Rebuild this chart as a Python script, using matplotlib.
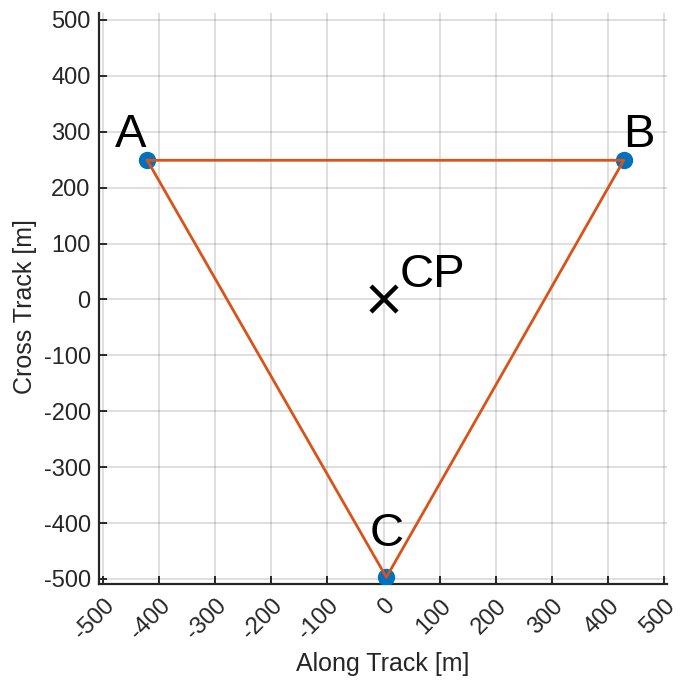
import matplotlib
matplotlib.use("Agg")
import matplotlib.pyplot as plt

plt.rcParams['font.family'] = ['Liberation Sans', 'DejaVu Sans']

# Waypoints of the triangular track
point_names = ["A", "B", "C"]
point_x = [-421, 428, 5]
point_y = [249, 249, -497]

# Centre point
cp_x = [0]
cp_y = [0]

# Label placement (data coordinates, text baseline)
label_x = [-450, 455, 6]
label_y = [273, 273, -441]
cp_label_x = 28
cp_label_y = 22

ticks = list(range(-500, 501, 100))
tick_labels = [str(t) for t in ticks]

axis_color = "#262626"

fig = plt.figure(figsize=(6.81, 6.80), dpi=100)
ax = fig.add_axes([99 / 681, 1 - 584 / 680, (667 - 99) / 681, (584 - 12.7) / 680])

# Markers first, path over them
ax.plot(point_x, point_y, linestyle="none", marker="o", markersize=11.5,
        color="#0072BD", zorder=3)
path_x = point_x + [point_x[0]]
path_y = point_y + [point_y[0]]
ax.plot(path_x, path_y, color="#D95319", linewidth=2.0, zorder=4)

ax.plot(cp_x, cp_y, linestyle="none", marker="x", markersize=19,
        markeredgewidth=3.2, color="black", zorder=5)

for name, lx, ly in zip(point_names, label_x, label_y):
    ax.text(lx, ly, name, fontsize=34, ha="center", va="baseline", color="black")
ax.text(cp_label_x, cp_label_y, "CP", fontsize=34, ha="left", va="baseline", color="black")

ax.set_xlim(-507, 505)
ax.set_ylim(-509, 513)

ax.set_xticks(ticks)
ax.set_yticks(ticks)
ax.set_xticklabels(tick_labels, rotation=45, ha="right", rotation_mode="anchor")
ax.set_yticklabels(tick_labels)

ax.grid(True, color="#262626", alpha=0.15, linewidth=1.4)
ax.set_axisbelow(True)

for side in ["top", "right"]:
    ax.spines[side].set_visible(False)
for side in ["left", "bottom"]:
    ax.spines[side].set_color(axis_color)
    ax.spines[side].set_linewidth(1.6)

ax.tick_params(axis="both", direction="in", length=6, width=1.4,
               color=axis_color, labelcolor=axis_color, labelsize=17)
ax.tick_params(axis="y", pad=6)
ax.tick_params(axis="x", pad=8)

ax.set_xlabel("Along Track [m]", fontsize=18, color=axis_color, va="baseline")
ax.set_ylabel("Cross Track [m]", fontsize=18, color=axis_color, va="center")
ax.xaxis.set_label_coords(0.5, -0.153)
ax.yaxis.set_label_coords(-0.130, 0.485)

fig.savefig("out.png", dpi=100)
